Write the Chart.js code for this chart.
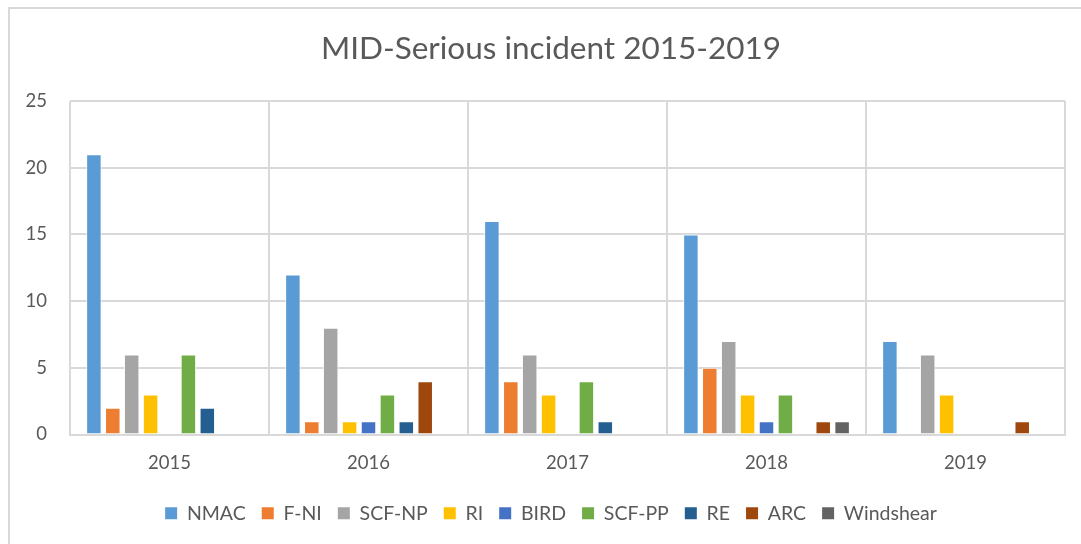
<!DOCTYPE html>
<html>
<head>
<meta charset="utf-8">
<script src="https://cdn.jsdelivr.net/npm/chart.js@4/dist/chart.umd.min.js"></script>
<style>
  html, body { margin: 0; padding: 0; background: #fff; overflow: hidden; width: 1081px; height: 544px; }
  #box { position: absolute; left: 8px; top: 7px; width: 1086px; height: 560px;
         border-top: 2px solid #d9d9d9; border-left: 2px solid #d9d9d9; }
  #c { display: block; }
</style>
</head>
<body>
<div id="box"><canvas id="c" width="1086" height="535"></canvas></div>
<script>
const titleText = "MID-Serious incident 2015-2019";
const categories = ["2015", "2016", "2017", "2018", "2019"];
const seriesNames = ["NMAC", "F-NI", "SCF-NP", "RI", "BIRD", "SCF-PP", "RE", "ARC", "Windshear"];
const NMAC      = [21, 12, 16, 15, 7];
const FNI       = [2, 1, 4, 5, 0];
const SCFNP     = [6, 8, 6, 7, 6];
const RI        = [3, 1, 3, 3, 3];
const BIRD      = [0, 1, 0, 1, 0];
const SCFPP     = [6, 3, 4, 3, 0];
const RE        = [2, 1, 1, 0, 0];
const ARC       = [0, 4, 0, 1, 1];
const Windshear = [0, 0, 0, 1, 0];
const yTicks = [0, 5, 10, 15, 20, 25];
const colors = ["#5B9BD5", "#ED7D31", "#A5A5A5", "#FFC000", "#4472C4", "#70AD47", "#255E91", "#9E480E", "#636363"];

const seriesValues = [NMAC, FNI, SCFNP, RI, BIRD, SCFPP, RE, ARC, Windshear];
const FONT = "Lato, 'Noto Sans', sans-serif";
const TXT = "#595959";
const GRID = "#d9d9d9";

new Chart(document.getElementById("c"), {
  type: "bar",
  data: {
    labels: categories,
    datasets: seriesNames.map((n, i) => ({
      label: n,
      data: seriesValues[i],
      backgroundColor: colors[i],
      borderColor: "rgba(255,255,255,0.75)",
      borderWidth: ctx => (ctx.raw ? 1 : 0),
      categoryPercentage: 0.855,
      barPercentage: 0.82
    }))
  },
  options: {
    responsive: false,
    animation: false,
    layout: { padding: { left: 27, right: 31, top: 10, bottom: 11 } },
    plugins: {
      title: {
        display: true, text: titleText, color: TXT,
        font: { family: FONT, size: 31.5, weight: "normal" },
        padding: { top: 10.6, bottom: 33.6 }
      },
      legend: {
        position: "bottom",
        labels: {
          color: TXT, font: { family: FONT, size: 19.5 },
          boxWidth: 12, boxHeight: 12, padding: 16,
          generateLabels: chart => chart.data.datasets.map((d, i) => ({
            text: d.label, fillStyle: colors[i], strokeStyle: colors[i], lineWidth: 0,
            datasetIndex: i, hidden: false, fontColor: TXT
          }))
        }
      },
      tooltip: { enabled: false }
    },
    scales: {
      x: {
        afterFit: axis => { axis.height = 53; },
        grid: { display: true, color: GRID, lineWidth: 2, drawTicks: false, offset: true },
        border: { display: true, color: GRID, width: 2 },
        ticks: { color: TXT, font: { family: FONT, size: 18.5 }, padding: 17 }
      },
      y: {
        min: 0, max: 25,
        afterBuildTicks: axis => { axis.ticks = yTicks.map(v => ({ value: v })); },
        afterFit: axis => { axis.width = 33; axis._computeLabelArea = () => undefined; },
        grid: { color: GRID, lineWidth: 2, drawTicks: false },
        border: { display: false },
        ticks: { color: TXT, font: { family: FONT, size: 18.5 }, padding: 23 }
      }
    }
  }
});
</script>
</body>
</html>
